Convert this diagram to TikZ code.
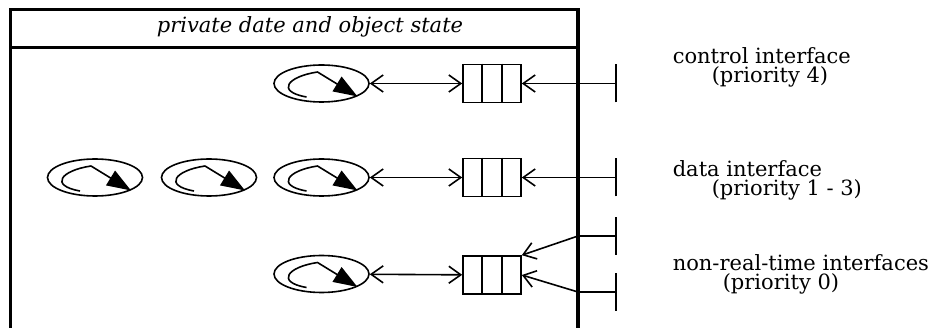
\documentclass[tikz,border=0pt]{standalone}
\usepackage{fontspec}
\setmainfont{DejaVu Serif}
\usetikzlibrary{arrows.meta,shapes.geometric,calc}

\begin{document}
\begin{tikzpicture}[x=1pt,y=-1pt,line width=1.6pt]
  \tikzset{>={Straight Barb[length=12pt,width=17pt]},
    thread/.style={draw, ellipse, minimum width=95pt, minimum height=37pt, inner sep=0pt},
    queue/.style={draw, rectangle, minimum width=58pt, minimum height=38pt, inner sep=0pt},
    ifacetext/.style={anchor=base west, inner sep=0pt, font=\fontsize{21}{21}\selectfont}}
  \useasboundingbox (0,0) rectangle (942,328);
    % Object Box
    \draw[line width=3.5pt] (10.5,330) -- (10.5,9.5) -- (578,9.5) -- (578,330);
    \draw[line width=3.5pt] (10.5,47.5) -- (578,47.5);
    \node[anchor=base, inner sep=0pt, font=\itshape\fontsize{21}{21}\selectfont] (state) at (310,33) {private date and object state};
    % Thread Nodes
    \node[thread] (control-thread) at (321.5,83.5) {};
    \node[thread] (data-thread-a) at (95,177.5) {};
    \node[thread] (data-thread-b) at (209,177.5) {};
    \node[thread] (data-thread-c) at (321.5,177.5) {};
    \node[thread] (nrt-thread) at (321.5,274) {};
    \foreach \t in {control-thread,data-thread-a,data-thread-b,data-thread-c,nrt-thread}
      \draw[shift={(\t.center)}, -{Triangle[length=24pt,width=17pt]}, line join=round]
        (-15,13.5) .. controls (-46,8) and (-34,-7) .. (-4,-11.5) -- (36,13);
    % Queue Nodes
    \node[queue] (control-queue) at (492,83.5) {};
    \node[queue] (data-queue) at (492,177.5) {};
    \node[queue] (nrt-queue) at (492,275) {};
    \foreach \q in {control-queue,data-queue,nrt-queue} {
      \draw ($(\q.north west)!1/3!(\q.north east)$) -- ($(\q.south west)!1/3!(\q.south east)$);
      \draw ($(\q.north west)!2/3!(\q.north east)$) -- ($(\q.south west)!2/3!(\q.south east)$);
    }
    % Ports
    \coordinate (control-port) at (616,83.5);
    \coordinate (data-port) at (616,177.5);
    \coordinate (nrt-port-a) at (616,236);
    \coordinate (nrt-port-b) at (616,292);
    \foreach \p in {control-port,data-port,nrt-port-a,nrt-port-b}
      \draw ([yshift=-19pt]\p) -- ([yshift=19pt]\p);
    % Connectors
    \draw[<->] (control-thread) -- (control-queue);
    \draw[<->] (data-thread-c) -- (data-queue);
    \draw[<->] (nrt-thread) -- (nrt-queue);
    \draw[->] (control-port) -- (control-queue);
    \draw[->] (data-port) -- (data-queue);
    \draw[->] (nrt-port-a) -- (578,236) -- (nrt-queue.north east);
    \draw[->] (nrt-port-b) -- (578,292) -- (nrt-queue.east);
    % Interface Labels
    \node[ifacetext] (control-label) at (672,64) {control interface};
    \node[ifacetext] (control-prio) at (711,83) {(priority 4)};
    \node[ifacetext] (data-label) at (672,177) {data interface};
    \node[ifacetext] (data-prio) at (711,196) {(priority 1 - 3)};
    \node[ifacetext] (nrt-label) at (672,271) {non-real-time interfaces};
    \node[ifacetext] (nrt-prio) at (722,290) {(priority 0)};
\end{tikzpicture}
\end{document}
